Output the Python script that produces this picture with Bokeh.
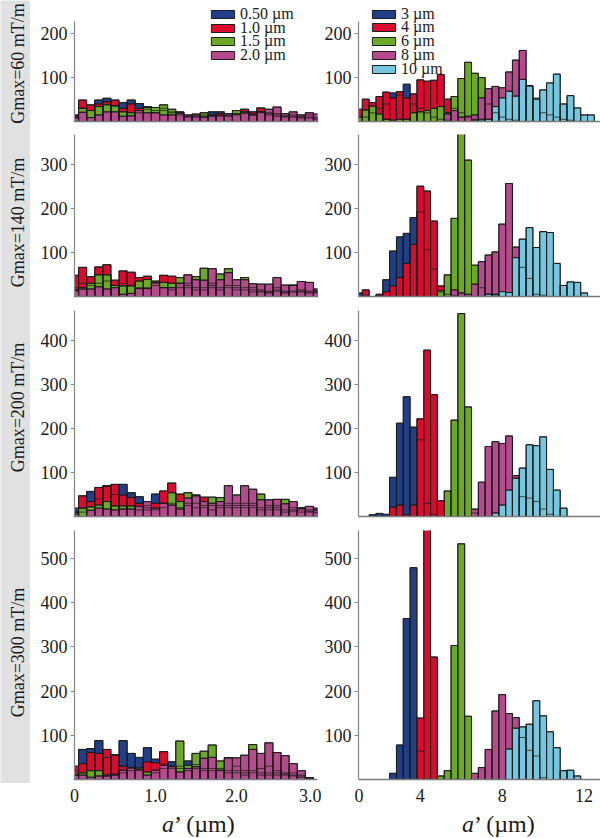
import math
from bokeh.plotting import figure
from bokeh.models import ColumnDataSource, FixedTicker, Legend, LegendItem, Range1d
from bokeh.layouts import row, column
from bokeh.embed import file_html
from bokeh.resources import INLINE
from bokeh.core.properties import value

FONT = "Liberation Serif"

ROW_LABELS = ["Gmax=60 mT/m", "Gmax=140 mT/m", "Gmax=200 mT/m", "Gmax=300 mT/m"]
LEFT_NAMES = ["0.50 µm", "1.0 µm", "1.5 µm", "2.0 µm"]
RIGHT_NAMES = ["3 µm", "4 µm", "6 µm", "8 µm", "10 µm"]
LEFT_COLORS = ["#203f88", "#dc0a2c", "#6caa26", "#b54a8c"]
RIGHT_COLORS = ["#203f88", "#dc0a2c", "#6caa26", "#b54a8c", "#74c7df"]
AXIS_TITLE_ITALIC = "a"
AXIS_TITLE_REST = "\u2019 (µm)"

# histogram bins (µm): left 0.1 wide centred on 0.0..3.0, right 1/3 wide centred on 1.0..12.67
LEFT_BIN = 0.1
RIGHT_BIN = 1.0 / 3.0
LEFT_CENTERS = [round(k * LEFT_BIN, 2) for k in range(31)]
RIGHT_CENTERS = [k * RIGHT_BIN for k in range(3, 39)]

LEFT_XTICKS = [0, 1, 2, 3]
LEFT_XLABELS = {0: "0", 1: "1.0", 2: "2.0", 3: "3.0"}
RIGHT_XTICKS = [1, 4, 8, 12]
RIGHT_XLABELS = {1: "0", 4: "4", 8: "8", 12: "12"}

Y_AXIS_MAX = [228, 367, 468, 563]          # top of each drawn y axis
Y_TICKS = [[100, 200], [100, 200, 300], [100, 200, 300, 400], [100, 200, 300, 400, 500]]

# ---- left column (a = 0.50, 1.0, 1.5, 2.0 µm) ----
G60_050 = [15,30,25,49,53,35,43,49,41,34,20,25,20,15,12,10,12,22,22,12,15,18,14,20,15,12,10,12,8,10,5]
G60_100 = [10,49,38,40,45,49,30,40,30,28,25,30,22,22,10,12,15,15,18,14,18,28,22,31,20,18,12,15,12,8,8]
G60_150 = [8,30,25,34,38,36,22,20,20,32,32,38,28,18,12,14,20,12,14,15,25,20,15,22,18,15,14,10,10,15,10]
G60_200 = [9,21,9,15,22,22,12,13,25,20,20,15,15,20,15,17,10,13,13,18,17,22,17,22,28,33,18,22,15,20,17]

G140_050 = [20,30,25,30,35,25,30,25,20,20,25,20,15,20,20,15,15,20,15,20,15,15,20,12,10,15,10,26,12,10,17]
G140_100 = [48,66,45,67,72,37,58,55,43,46,30,48,46,30,25,20,20,25,20,25,20,20,15,10,12,12,8,10,15,12,8]
G140_150 = [15,20,30,49,49,25,24,24,35,39,35,32,30,43,30,45,64,30,51,63,25,43,10,15,8,20,12,12,10,8,10]
G140_200 = [13,17,17,22,17,20,5,7,18,18,32,20,20,30,49,38,37,63,38,54,38,38,29,28,28,43,26,25,34,32,12]

G200_050 = [19,10,57,40,70,50,73,54,45,25,51,30,30,20,25,49,20,15,20,30,20,25,20,15,15,20,10,15,20,12,19]
G200_100 = [10,47,34,66,69,73,49,43,30,20,30,58,76,51,30,20,44,25,25,20,25,20,25,20,20,15,15,12,15,10,10]
G200_150 = [5,19,22,26,34,24,24,24,15,15,15,20,54,34,54,30,25,44,43,25,30,30,30,51,25,25,39,20,10,15,8]
G200_200 = [8,0,14,19,17,15,17,17,23,34,19,30,26,17,42,47,34,30,34,70,49,70,62,38,38,39,29,34,19,23,15]

G300_050 = [20,68,70,88,50,56,88,59,50,72,46,35,40,25,42,34,25,20,25,20,15,10,15,10,15,10,10,8,5,4,0]
G300_100 = [30,36,61,59,68,55,30,25,20,40,38,63,30,30,20,25,20,25,20,15,20,15,20,15,10,15,12,10,8,3,0]
G300_150 = [10,15,20,20,10,12,15,20,26,17,15,25,25,87,32,59,64,78,42,49,30,20,79,25,30,20,15,15,10,2,0]
G300_200 = [10,10,5,8,8,10,21,27,23,10,21,32,29,17,25,29,48,50,21,49,49,55,68,59,83,61,54,36,20,4,0]

# ---- right column (a = 3, 4, 6, 8, 10 µm), bins 1.0 .. 12.67 µm ----
G60_3 = [0,10,20,30,40,65,60,85,40,30,20,10,5,3] + [0] * 22
G60_4 = [28,51,43,57,67,54,68,54,63,95,92,94,107,51,30,20,10,5,3] + [0] * 17
G60_6 = [10,26,35,17,5,3,5,5,20,22,25,30,34,20,57,98,135,110,100,40,20,10,5,3] + [0] * 12
G60_8 = [0] * 13 + [17,25,10,12,15,54,75,80,77,113,140,162,80,50,20,15,10,5,3] + [0] * 4
G60_10 = [0] * 17 + [3,5,5,34,54,69,58,96,82,53,72,88,108,40,59,31,15,15,0]

G140_3 = [8,3,0,2,38,103,135,143,179,192,106,62,10] + [0] * 23
G140_4 = [0,15,0,5,11,24,43,75,118,250,239,171,24,5,3] + [0] * 21
G140_6 = [0] * 12 + [13,49,177,380,309,71,20,5,3] + [0] * 15
G140_8 = [0] * 14 + [15,8,5,28,79,94,101,164,256,112,66,41,5,3] + [0] * 8
G140_10 = [0] * 19 + [5,5,11,9,88,130,156,111,147,145,75,25,33,32,8] + [0] * 2

G200_3 = [0] * 2 + [4,7,5,89,212,272,203,174,30,5] + [0] * 24
G200_4 = [0] * 5 + [21,26,4,26,222,378,277,36] + [0] * 23
G200_6 = [0] * 13 + [58,219,461,249,8] + [0] * 18
G200_8 = [0] * 17 + [17,78,159,170,166,183,93,45,42,34,17,5] + [0] * 7
G200_10 = [0] * 20 + [8,26,60,87,110,163,161,181,107,60,19] + [0] * 5

G300_3 = [0] * 5 + [14,78,364,479,64] + [0] * 26
G300_4 = [0] * 9 + [139,575,277] + [0] * 24
G300_6 = [0] * 12 + [8,20,303,533,143] + [0] * 19
G300_8 = [0] * 17 + [14,27,68,155,192,149,140,95,66,53,4] + [0] * 8
G300_10 = [0] * 22 + [69,116,119,125,178,144,108,72,20,21,8] + [0] * 3

LEFT_DATA = [
    [G60_050, G60_100, G60_150, G60_200],
    [G140_050, G140_100, G140_150, G140_200],
    [G200_050, G200_100, G200_150, G200_200],
    [G300_050, G300_100, G300_150, G300_200],
]
RIGHT_DATA = [
    [G60_3, G60_4, G60_6, G60_8, G60_10],
    [G140_3, G140_4, G140_6, G140_8, G140_10],
    [G200_3, G200_4, G200_6, G200_8, G200_10],
    [G300_3, G300_4, G300_6, G300_8, G300_10],
]

# ---- layout sizes (pixels) ----
BAND_W = 30
L_BL, L_FW, L_BR = 44, 243, 4
R_BL, R_FW, R_BR = 36, 243, 0
AXIS_H = [100, 162, 206, 249]       # drawn height of each y axis
HEADROOM = [21, 0, 0, 0]            # extra frame above the axis (room for legends)
BOT_B = [13, 14, 14, 30]
TITLE_H = 29
ROW_LABEL_Y = [63, 222, 407, 652]   # label centres, px from top
LEGEND_X = {"L": 134, "R": 11}
LEGEND_FIRST = {"L": 11.0, "R": 10.5}   # first entry centre, px from top of frame
LEGEND_STEP = {"L": 13.6, "R": 13.8}
TITLE_CX = {"L": 167, "R": 176}
EDGE = "#1c1c1c"


def panel(i, side):
    left = side == "L"
    data = LEFT_DATA[i] if left else RIGHT_DATA[i]
    centers = LEFT_CENTERS if left else RIGHT_CENTERS
    wbin = LEFT_BIN if left else RIGHT_BIN
    colors = LEFT_COLORS if left else RIGHT_COLORS
    names = LEFT_NAMES if left else RIGHT_NAMES
    xr = (0.0, 3.0) if left else (0.98, 12.85)
    fw = L_FW if left else R_FW
    fh = AXIS_H[i] + HEADROOM[i]
    ytop = Y_AXIS_MAX[i] * fh / AXIS_H[i]
    p = figure(frame_width=fw, frame_height=fh,
               x_range=Range1d(*xr), y_range=Range1d(0, ytop),
               output_backend="svg", toolbar_location=None, tools="",
               min_border_left=L_BL if left else R_BL,
               min_border_right=L_BR if left else R_BR,
               min_border_top=0, min_border_bottom=BOT_B[i],
               background_fill_color="white", border_fill_color="white")
    p.outline_line_color = None
    p.xgrid.visible = False
    p.ygrid.visible = False

    srcs = []
    rends = []
    for vals, c in zip(data, colors):
        xs = [x for x, v in zip(centers, vals) if v > 0]
        tops = [v for v in vals if v > 0]
        src = ColumnDataSource(dict(left=[x - wbin / 2 for x in xs],
                                    right=[x + wbin / 2 for x in xs],
                                    top=tops, bottom=[0] * len(xs)))
        r = p.quad(left="left", right="right", top="top", bottom="bottom", source=src,
                   fill_color=c, line_color=EDGE, line_width=1)
        srcs.append(src)
        rends.append(r)
    # outlines of all bars (hidden bars show as internal edges)
    for src in srcs:
        p.quad(left="left", right="right", top="top", bottom="bottom", source=src,
               fill_color=None, line_color=EDGE, line_alpha=0.75, line_width=1)

    # y axis
    p.yaxis.ticker = FixedTicker(ticks=Y_TICKS[i])
    p.yaxis.bounds = (0, Y_AXIS_MAX[i])
    p.yaxis.axis_line_color = "#8a8a8a"
    p.yaxis.axis_line_width = 1.3
    p.yaxis.major_tick_line_color = "#8a8a8a"
    p.yaxis.major_tick_out = 4
    p.yaxis.major_tick_in = 0
    p.yaxis.minor_tick_out = 0
    p.yaxis.minor_tick_in = 0
    p.yaxis.major_label_text_font = FONT
    p.yaxis.major_label_text_font_size = "18px"
    p.yaxis.major_label_text_color = "#1a1a1a"
    p.yaxis.major_label_standoff = 3

    # x axis
    p.xaxis.axis_line_color = "#7a7a7a"
    p.xaxis.axis_line_width = 1.6
    p.xaxis.major_tick_out = 0
    p.xaxis.major_tick_in = 0
    p.xaxis.minor_tick_out = 0
    p.xaxis.minor_tick_in = 0
    p.xaxis.major_label_text_font = FONT
    p.xaxis.major_label_text_font_size = "18px"
    p.xaxis.major_label_text_color = "#1a1a1a"
    p.xaxis.major_label_standoff = 9
    if i == 3:
        p.xaxis.ticker = FixedTicker(ticks=LEFT_XTICKS if left else RIGHT_XTICKS)
        p.xaxis.major_label_overrides = LEFT_XLABELS if left else RIGHT_XLABELS
    else:
        p.xaxis.ticker = FixedTicker(ticks=[])

    if i == 0:
        # one single-entry legend per series, stacked tightly as in the original
        for k, (name, r) in enumerate(zip(names, rends)):
            centre = LEGEND_FIRST[side] + LEGEND_STEP[side] * k
            y_loc = fh - (centre + 12)
            lg = Legend(items=[LegendItem(label=name, renderers=[r])],
                        location=(LEGEND_X[side], y_loc), orientation="vertical",
                        label_text_font=FONT, label_text_font_size="16px",
                        label_text_color="#1a1a1a", label_standoff=3,
                        glyph_width=29, glyph_height=10, padding=0, margin=0, spacing=0,
                        background_fill_alpha=0, border_line_alpha=0)
            p.add_layout(lg)
    return p


def title_strip(side):
    left = side == "L"
    w = (L_BL + L_FW + L_BR) if left else (R_BL + R_FW + R_BR)
    t = figure(width=w, height=TITLE_H, x_range=Range1d(0, w), y_range=Range1d(0, TITLE_H),
               output_backend="svg", toolbar_location=None, tools="",
               x_axis_location=None, y_axis_location=None, min_border=0,
               background_fill_color="white", border_fill_color="white")
    t.outline_line_color = None
    t.xgrid.visible = False
    t.ygrid.visible = False
    split = TITLE_CX[side] - 23.5
    t.text(x=[split], y=[TITLE_H - 14], text=[AXIS_TITLE_ITALIC], text_align="right",
           text_baseline="middle", text_font=value(FONT), text_font_style="italic",
           text_font_size="24px", text_color="#1a1a1a")
    t.text(x=[split], y=[TITLE_H - 14], text=[AXIS_TITLE_REST], text_align="left",
           text_baseline="middle", text_font=value(FONT),
           text_font_size="24px", text_color="#1a1a1a")
    return t


band_h = sum(HEADROOM) + sum(AXIS_H) + sum(BOT_B[:3]) + 4
band = figure(width=BAND_W, height=band_h, x_range=Range1d(0, BAND_W), y_range=Range1d(0, band_h),
              output_backend="svg", toolbar_location=None, tools="",
              x_axis_location=None, y_axis_location=None, min_border=0,
              background_fill_color="#e1e1e1", border_fill_color="#e1e1e1")
band.outline_line_color = None
band.xgrid.visible = False
band.ygrid.visible = False
band.text(x=[17] * 4, y=[band_h - c for c in ROW_LABEL_Y], text=ROW_LABELS, angle=math.pi / 2,
          text_align="center", text_baseline="middle", text_font=value(FONT),
          text_font_size="18px", text_color="#1a1a1a")

rows = [row(panel(i, "L"), panel(i, "R")) for i in range(4)]
rows.append(row(title_strip("L"), title_strip("R")))
layout = row(band, column(*rows))

open("out.html", "w").write(file_html(layout, INLINE, title="Histograms"))
